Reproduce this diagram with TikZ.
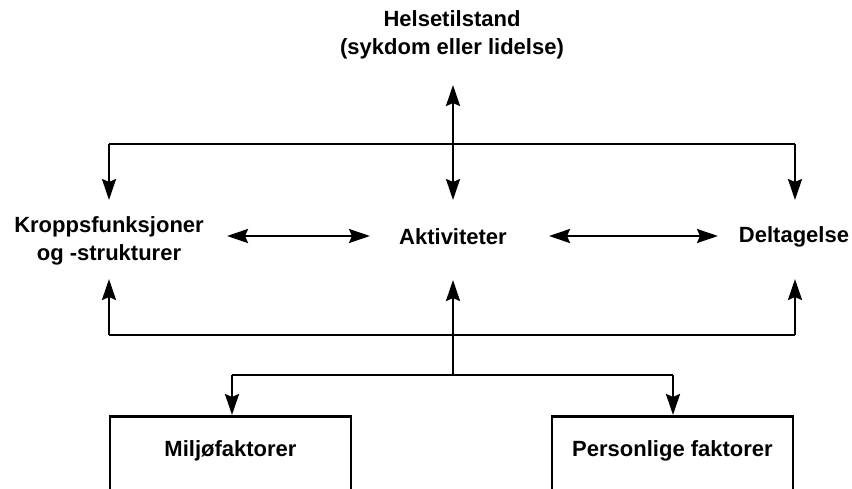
\documentclass[tikz,border=0pt]{standalone}
\usepackage{fontspec}
\setmainfont{Liberation Sans}
\usetikzlibrary{arrows.meta}
\begin{document}
\begin{tikzpicture}[x=1pt,y=-1pt,
  lbl/.style={font=\fontsize{22}{28}\selectfont\bfseries, align=center, inner sep=0pt},
  conn/.style={line width=2.5pt, -{Stealth[length=21pt,width=14pt,inset=3pt]}},
  dconn/.style={line width=2.5pt, {Stealth[length=21pt,width=14pt,inset=3pt]}-{Stealth[length=21pt,width=14pt,inset=3pt]}},
  ln/.style={line width=2.5pt},
  facbox/.style={draw, line width=2.5pt, minimum width=241pt, inner xsep=0pt, inner ysep=0pt,
    text height=40pt, text depth=60pt, anchor=north, font=\fontsize{22}{28}\selectfont\bfseries}]
\useasboundingbox (0,0) rectangle (852,488);
\clip (0,0) rectangle (852,488);
% nodes
\node[lbl] (H) at (452,35) {Helsetilstand\\(sykdom eller lidelse)};
\node[lbl] (K) at (109,241) {Kroppsfunksjoner\\og -strukturer};
\node[lbl] (A) at (453,237) {Aktiviteter};
\node[lbl] (D) at (794,237) {Deltagelse};
\node[facbox] (M) at (230.5,415) {Milj\o faktorer};
\node[facbox] (P) at (672.5,415) {Personlige faktorer};
% coordinates
\coordinate (tH) at (453,85);
\coordinate (bA) at (453,200);
\coordinate (tl) at (109,144);
\coordinate (tr) at (795,144);
\coordinate (kd) at (109,200);
\coordinate (dd) at (795,200);
\coordinate (bl) at (109,335);
\coordinate (br) at (795,335);
\coordinate (ku) at (109,279);
\coordinate (du) at (795,279);
\coordinate (au) at (453,280);
\coordinate (ab) at (453,375);
\coordinate (ml) at (232,375);
\coordinate (mr) at (673,375);
\coordinate (kr) at (227,236);
\coordinate (al) at (370,236);
\coordinate (ar) at (549,236);
\coordinate (dl) at (718,236);
% connectors
\draw[dconn] (tH) -- (bA);
\draw[ln] (tl) -- (tr);
\draw[conn] (tl) -- (kd);
\draw[conn] (tr) -- (dd);
\draw[dconn] (kr) -- (al);
\draw[dconn] (ar) -- (dl);
\draw[ln] (bl) -- (br);
\draw[conn] (bl) -- (ku);
\draw[conn] (br) -- (du);
\draw[conn] (ab) -- (au);
\draw[ln] (ml) -- (mr);
\draw[conn] (ml) -- (M.north -| ml);
\draw[conn] (mr) -- (P.north -| mr);
\end{tikzpicture}
\end{document}
